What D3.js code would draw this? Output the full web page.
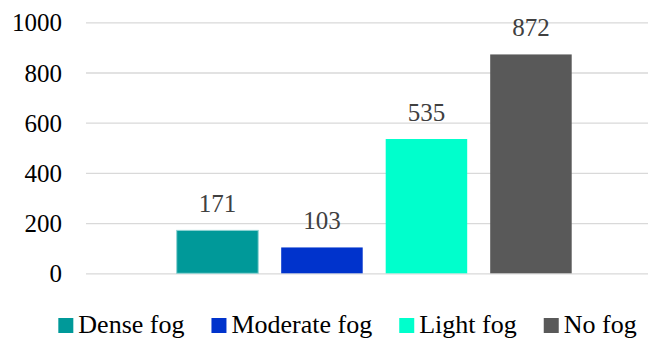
<!DOCTYPE html>
<html>
<head>
<meta charset="utf-8">
<script src="https://cdn.jsdelivr.net/npm/d3@7/dist/d3.min.js"></script>
<style>
  html, body { margin: 0; padding: 0; background: #fff; }
  svg { display: block; }
</style>
</head>
<body>
<div id="chart"></div>
<script>
// Fog classes and their counts
const categories = ["Dense fog", "Moderate fog", "Light fog", "No fog"];
const counts = [171, 103, 535, 872];
const colors = ["#009999", "#0033CC", "#00FFCC", "#595959"];
const yTicks = [0, 200, 400, 600, 800, 1000];

const W = 649, H = 340;
const fontFamily = "'Liberation Serif', 'Times New Roman', serif";

const svg = d3.select("#chart").append("svg")
  .attr("width", W).attr("height", H);

const plot = { left: 86, right: 648, top: 22.3, bottom: 273.3 };

const y = d3.scaleLinear().domain([0, 1000]).range([plot.bottom, plot.top]);

// Bars of the single category group
const x = d3.scaleBand()
  .domain(categories)
  .range([176.7, 571.7])
  .paddingInner(0.22)
  .paddingOuter(0);

// Gridlines and tick labels
const yAxis = d3.axisLeft(y)
  .tickValues(yTicks)
  .tickSize(-(plot.right - plot.left))
  .tickPadding(24)
  .tickFormat(d3.format("d"));

const axisG = svg.append("g")
  .attr("transform", `translate(${plot.left},0)`)
  .call(yAxis);
axisG.select(".domain").remove();
axisG.selectAll(".tick line")
  .attr("stroke", "#D9D9D9")
  .attr("stroke-width", 1.3);
axisG.selectAll(".tick text")
  .attr("fill", "#000")
  .attr("font-family", fontFamily)
  .attr("font-size", 25)
  .attr("dy", "0.34em");

// Bars
svg.append("g").selectAll("rect")
  .data(categories)
  .join("rect")
  .attr("x", d => x(d))
  .attr("width", x.bandwidth())
  .attr("y", (d, i) => y(counts[i]))
  .attr("height", (d, i) => y(0) - y(counts[i]))
  .attr("fill", (d, i) => colors[i])
  .attr("stroke", (d, i) => i === 0 ? "#8fd3d3" : "none")
  .attr("stroke-width", 1);

// Value labels above bars
svg.append("g").selectAll("text")
  .data(categories)
  .join("text")
  .attr("x", d => x(d) + x.bandwidth() / 2)
  .attr("y", (d, i) => y(counts[i]) - 18)
  .attr("text-anchor", "middle")
  .attr("fill", "#404040")
  .attr("font-family", fontFamily)
  .attr("font-size", 25)
  .text((d, i) => counts[i]);

// Legend, centred under the plot
const legend = svg.append("g");
const swatch = 15, swGap = 5, itemGap = 27, legendBase = 333;
const items = legend.selectAll("g")
  .data(categories)
  .join("g");
items.append("rect")
  .attr("width", swatch).attr("height", swatch)
  .attr("y", legendBase - swatch)
  .attr("fill", (d, i) => colors[i]);
items.append("text")
  .attr("x", swatch + swGap)
  .attr("y", legendBase)
  .attr("fill", "#000")
  .attr("font-family", fontFamily)
  .attr("font-size", 26)
  .text(d => d);

let cursor = 0;
const offsets = [];
items.each(function () {
  const t = d3.select(this).select("text").node().getComputedTextLength();
  offsets.push(cursor);
  cursor += swatch + swGap + t + itemGap;
});
const totalW = cursor - itemGap;
const startX = 347.5 - totalW / 2;
items.attr("transform", (d, i) => `translate(${startX + offsets[i]},0)`);
</script>
</body>
</html>
